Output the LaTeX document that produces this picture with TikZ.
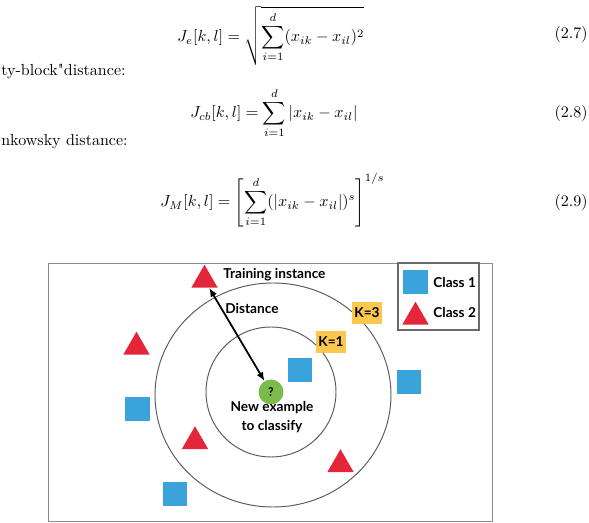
\documentclass[tikz,border=0pt]{standalone}
\usepackage{amsmath}
\usepackage{fontspec}
\newfontfamily\knnfont{Lato}
\usetikzlibrary{positioning,arrows.meta,shapes.geometric}
\definecolor{clsblue}{HTML}{3AA3DC}
\definecolor{clsred}{HTML}{E3263A}
\definecolor{newgreen}{HTML}{7BBB4C}
\definecolor{kyellow}{HTML}{FCC74E}
\definecolor{ringgray}{HTML}{5A5A5A}
\definecolor{framegray}{HTML}{8C8C8C}
\definecolor{legendgray}{HTML}{6A6A6A}

\begin{document}
\begin{tikzpicture}[
    x=0.623pt, y=-0.623pt,
    eqnode/.style={anchor=base west, inner sep=0pt},
    numnode/.style={anchor=base east, inner sep=0pt},
    sqnode/.style={rectangle, fill=clsblue, minimum size=15pt, inner sep=0pt},
    trinode/.style={regular polygon, regular polygon sides=3, fill=clsred, minimum size=19pt, inner sep=0pt},
    knode/.style={fill=kyellow, minimum width=19pt, minimum height=13.5pt, inner sep=0pt, font=\knnfont\bfseries\fontsize{8.5}{10}\selectfont},
    lblnode/.style={inner sep=0pt, font=\knnfont\bfseries\fontsize{8.5}{11.8}\selectfont},
    newnode/.style={circle, fill=newgreen, minimum size=15.5pt, inner sep=0pt, font=\knnfont\bfseries\fontsize{7.5}{8}\selectfont},
    ring/.style={draw=ringgray, line width=0.6pt},
    distarrow/.style={{Latex[length=5.5pt,width=4.5pt]}-{Latex[length=5.5pt,width=4.5pt]}, line width=1.1pt}
]
\useasboundingbox (0,0) rectangle (589,523);

% Distance formulas
\node[eqnode] (eqe) at (177,42) {$\displaystyle J_e[k,l] = \sqrt{\sum_{i=1}^{d}(x_{ik}-x_{il})^2}$};
\node[numnode] (nume) at (588,39) {(\oldstylenums{2.7})};
\node[eqnode] (cityline) at (1,76) {ty-block\textquotedbl distance:};
\node[eqnode] (eqcb) at (190,118) {$\displaystyle J_{cb}[k,l] = \sum_{i=1}^{d}|x_{ik}-x_{il}|$};
\node[numnode] (numcb) at (588,118) {(\oldstylenums{2.8})};
\node[eqnode] (minkline) at (1,146) {nkowsky distance:};
\node[eqnode] (eqm) at (160,207) {$\displaystyle J_M[k,l] = \left[\sum_{i=1}^{d}(|x_{ik}-x_{il}|)^s\right]^{1/s}$};
\node[numnode] (numm) at (588,207) {(\oldstylenums{2.9})};

% Frame and neighbourhood rings
\draw[framegray, line width=0.6pt] (48,263) rectangle (492,521);
\coordinate (ctr) at (271,392);
\draw[ring] (273,395) ellipse[x radius=118, y radius=112];
\draw[ring] (ctr) circle[radius=65];

% Training points
\node[trinode] (trtop) at (204.5,280) {};
\node[trinode] (trleft) at (136.5,347) {};
\node[trinode] (trlow) at (195,441.5) {};
\node[trinode] (trright) at (340.5,464.5) {};
\node[sqnode] (sqnear) at (300,370) {};
\node[sqnode] (sqright) at (409,382) {};
\node[sqnode] (sqleft) at (137.5,409) {};
\node[sqnode] (sqlow) at (175,494) {};

% New example
\node[newnode] (query) at (ctr) {?};
\node[lblnode, align=center, anchor=north] (newtxt) at (272,401) {New example\\to classify};
\draw[distarrow] (trtop) -- (query);
\node[lblnode, anchor=west] (traintxt) at (223,275) {Training instance};
\node[lblnode] (disttxt) at (252,308) {Distance};

% K labels
\node[knode] (kthree) at (367,313) {K=3};
\node[knode] (kone) at (331,342) {K=1};

% Legend
\draw[legendgray, line width=0.9pt] (398,263) rectangle (479,330);
\node[sqnode] (legsq) at (415.5,282) {};
\node[trinode] (legtri) at (415.5,317) {};
\node[lblnode, anchor=west] (legone) at (433,282) {Class 1};
\node[lblnode, anchor=west] (legtwo) at (433,312) {Class 2};

\end{tikzpicture}
\end{document}
